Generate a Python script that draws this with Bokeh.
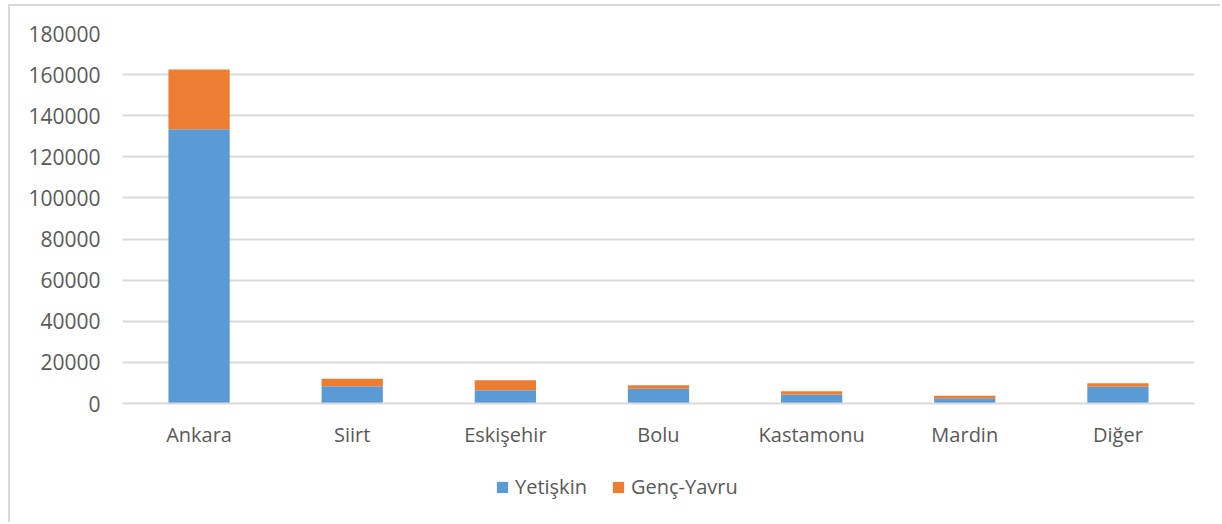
from bokeh.plotting import figure
from bokeh.models import ColumnDataSource, Legend, LegendItem, SingleIntervalTicker, NumeralTickFormatter, Range1d, FactorRange
from bokeh.layouts import column
from bokeh.embed import file_html
from bokeh.resources import INLINE

cities = ["Ankara", "Siirt", "Eskişehir", "Bolu", "Kastamonu", "Mardin", "Diğer"]
yetiskin = [133400, 8400, 6400, 7200, 4400, 2600, 8200]
genc_yavru = [29100, 3600, 4900, 1650, 1500, 1150, 1650]
series = ["Yetişkin", "Genç-Yavru"]
colors = ["#5B9BD5", "#ED7D31"]

src = ColumnDataSource(dict(city=cities, Yetişkin=yetiskin, **{"Genç-Yavru": genc_yavru}))

FONT = "Open Sans"
TXT = "#595959"
BORDER = "2px solid #D9D9D9"

p = figure(x_range=cities, y_range=(0, 180000), width=1212, height=454,
           output_backend="svg", toolbar_location=None,
           min_border_left=112, min_border_right=28, min_border_top=27, min_border_bottom=57)

rs = p.vbar_stack(series, x="city", width=0.4, color=colors, line_color=None, source=src)

p.outline_line_color = None
p.border_fill_color = "white"
p.background_fill_color = "white"

p.yaxis.ticker = SingleIntervalTicker(interval=20000)
p.yaxis.formatter = NumeralTickFormatter(format="0")
p.yaxis.axis_line_color = None
p.yaxis.major_tick_line_color = None
p.yaxis.minor_tick_line_color = None
p.yaxis.major_label_standoff = 16
p.yaxis.major_label_text_font = FONT
p.yaxis.major_label_text_font_size = "21px"
p.yaxis.major_label_text_color = TXT

p.xaxis.axis_line_color = "#D9D9D9"
p.xaxis.axis_line_width = 2
p.xaxis.major_tick_line_color = None
p.xaxis.minor_tick_line_color = None
p.xaxis.major_label_standoff = 11
p.xaxis.major_label_text_font = FONT
p.xaxis.major_label_text_font_size = "20px"
p.xaxis.major_label_text_color = TXT

p.xgrid.grid_line_color = None
p.ygrid.grid_line_color = "#D9D9D9"
p.ygrid.grid_line_width = 2
p.x_range.range_padding = 0
p.styles = {"border-left": BORDER, "border-top": BORDER}

# legend strip below the chart (its frame is aligned with the chart's frame)
p2 = figure(width=1212, height=64, output_backend="svg", toolbar_location=None,
            x_range=FactorRange(*cities), y_range=Range1d(-2e6, -1e6),
            x_axis_location=None, y_axis_location=None,
            min_border_left=112, min_border_right=28, min_border_top=0, min_border_bottom=0)
p2.outline_line_color = None
p2.xgrid.grid_line_color = None
p2.ygrid.grid_line_color = None
# swatch renderers only (zero width, outside the strip's range): they give the legend its colours
lr = p2.vbar_stack(series, x="city", width=0, color=colors, line_color=None, source=src)
legend = Legend(items=[LegendItem(label=s, renderers=[r]) for s, r in zip(series, lr)],
                orientation="horizontal", location=(373, 22),
                label_text_font=FONT, label_text_font_size="20px", label_text_color=TXT,
                glyph_width=14, glyph_height=14, spacing=24, padding=0, margin=0,
                label_standoff=6, border_line_color=None, background_fill_alpha=0)
p2.add_layout(legend)
p2.styles = {"border-left": BORDER}

layout = column(p, p2, spacing=0, styles={"padding-left": "8px", "padding-top": "4px"})

open("out.html", "w").write(file_html(layout, INLINE))
